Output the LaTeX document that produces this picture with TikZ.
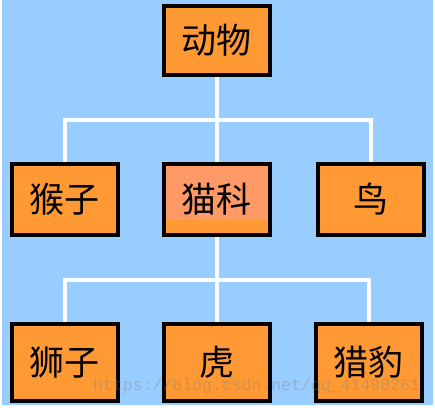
\documentclass[tikz,border=0pt]{standalone}
\usepackage{fontspec}
\newfontfamily\cjk{Noto Sans CJK SC}
\newfontfamily\markfont{Liberation Mono}
\usetikzlibrary{positioning}
\definecolor{bgblue}{HTML}{99CCFF}
\definecolor{boxorange}{HTML}{FF9933}
\definecolor{catpink}{HTML}{FF9966}

\begin{document}
\begin{tikzpicture}[x=1pt,y=-1pt,
    box/.style={draw=black, line width=4pt, fill=boxorange, minimum width=106pt, minimum height=71pt, inner sep=0pt, font=\cjk\fontsize{35}{35}\selectfont},
    edge/.style={draw=white, line width=4pt}]
    % background
    \useasboundingbox (0,0) rectangle (435,407);
    \fill[white] (0,0) rectangle (435,407);
    \fill[bgblue] (2,0) rectangle (433,405);

    % top level
    \node[box, minimum height=69pt] (animal) at (216.5,40.5) {动物};

    % middle row
    \node[box, below=85pt of animal, path picture={\fill[catpink] (path picture bounding box.north west) rectangle ([yshift=15pt]path picture bounding box.south east);}] (cat) {猫科};
    \node[box, left=42pt of cat] (monkey) {猴子};
    \node[box, right=44pt of cat] (bird) {鸟};

    % bottom row
    \node[box, minimum height=77pt, below=85pt of cat] (tiger) {虎};
    \node[box, minimum height=77pt, left=42pt of tiger] (lion) {狮子};
    \node[box, minimum height=77pt, right=42pt of tiger] (cheetah) {猎豹};

    % tree lines
    \draw[edge] (animal) -- (cat);
    \draw[edge] (monkey.north) -- ++(0,-42) -| (bird.north);
    \draw[edge] (cat) -- (tiger);
    \draw[edge] (lion.north) -- ++(0,-42) -| (cheetah.north);

    \node[anchor=west, inner sep=0pt, text=gray, opacity=0.35, font=\markfont\fontsize{16.5}{16.5}\selectfont] (mark) at (93,386) {https://blog.csdn.net/qq\_41498261};
\end{tikzpicture}
\end{document}
